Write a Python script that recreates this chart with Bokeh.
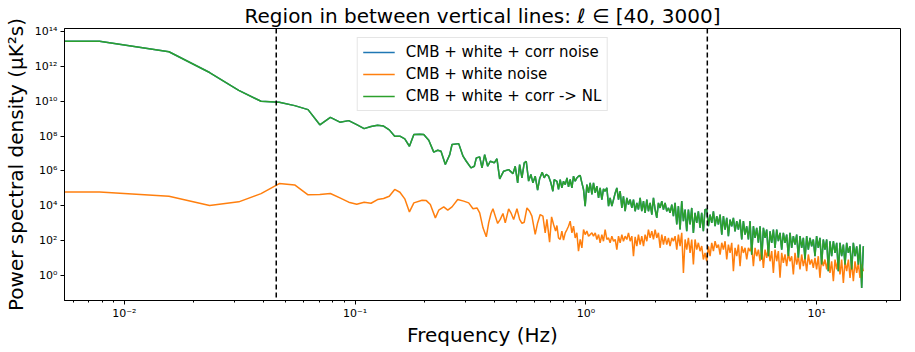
import numpy as np
from bokeh.plotting import figure
from bokeh.models import Span, Legend, LegendItem, FixedTicker, CustomJSTickFormatter, Range1d
from bokeh.embed import file_html
from bokeh.resources import INLINE

# ---------------- data ----------------
# low-frequency FFT bins (Hz); first bin is DC (0 Hz)
low_freq = [0.0, 0.0078, 0.0156, 0.0234, 0.0313, 0.0391, 0.0469, 0.0547, 0.0625, 0.0703,
            0.0781, 0.0859, 0.0938, 0.1016, 0.1094, 0.1172, 0.1250, 0.1328, 0.1406, 0.1484,
            0.1563, 0.1641, 0.1719, 0.1797]
green_low_log10 = [13.44, 13.44, 12.84, 11.65, 10.63, 10.00, 9.94, 9.75, 9.52, 8.65,
                   9.08, 8.80, 8.89, 8.66, 8.43, 8.55, 8.62, 8.58, 8.36, 7.99,
                   8.00, 7.84, 7.42, 8.09]
orange_low_log10 = [4.80, 4.80, 4.55, 4.02, 4.23, 4.70, 5.28, 5.20, 4.63, 4.65,
                    4.71, 4.46, 4.21, 4.09, 4.21, 4.15, 4.36, 4.42, 4.55, 4.94,
                    4.78, 4.40, 3.65, 4.17]

green_mid_freq = [0.1905, 0.1983, 0.2085, 0.2191, 0.2280, 0.2356, 0.2460, 0.2570, 0.2630, 0.2811,
                  0.2935, 0.3032, 0.3178, 0.3285, 0.3351, 0.3466, 0.3547, 0.3643, 0.3754, 0.3852,
                  0.4009, 0.4118, 0.4231, 0.4402, 0.4627, 0.4831, 0.4942, 0.5062, 0.5164, 0.5284,
                  0.5406, 0.5515, 0.5648, 0.5779, 0.5895, 0.6032, 0.6178, 0.6302, 0.6467, 0.6598,
                  0.6730, 0.6893, 0.7053, 0.7195, 0.7290]
green_mid_log10 = [8.11, 8.09, 7.76, 7.08, 7.19, 7.13, 6.37, 6.94, 7.52, 7.57,
                   6.85, 6.56, 6.18, 6.27, 6.75, 6.81, 6.18, 6.94, 6.27, 6.56,
                   6.47, 6.70, 5.55, 5.99, 6.08, 5.85, 6.27, 5.32, 6.37, 5.61,
                   6.47, 6.56, 5.42, 5.80, 5.32, 5.70, 4.90, 5.55, 5.93, 5.61,
                   5.80, 5.70, 5.32, 4.84, 5.51]

orange_mid_freq = [0.1950, 0.2035, 0.2118, 0.2227, 0.2303, 0.2421, 0.2520, 0.2630, 0.2783, 0.2955,
                   0.3106, 0.3242, 0.3374, 0.3466, 0.3582, 0.3702, 0.3791, 0.3879, 0.3957, 0.4049,
                   0.4147, 0.4256, 0.4372, 0.4473, 0.4627, 0.4734, 0.4864, 0.5027, 0.5164, 0.5284,
                   0.5406, 0.5554, 0.5705, 0.5836, 0.6032, 0.6178, 0.6340, 0.6513, 0.6664, 0.6778,
                   0.6963, 0.7102, 0.7246, 0.7392]
orange_mid_log10 = [4.32, 4.30, 4.08, 3.31, 3.75, 3.94, 3.75, 3.94, 4.36, 4.27,
                    4.17, 3.83, 3.88, 3.60, 2.74, 2.22, 3.02, 3.56, 3.83, 3.41,
                    2.99, 3.22, 3.56, 3.02, 3.83, 3.60, 3.22, 3.83, 3.22, 2.99,
                    3.06, 3.88, 3.69, 3.41, 2.36, 3.02, 3.50, 3.41, 2.45, 3.22,
                    1.92, 3.37, 2.93, 2.55]

dense_freq = [0.749, 0.761, 0.774, 0.787, 0.800, 0.814, 0.828, 0.841, 0.855, 0.870,
              0.884, 0.899, 0.914, 0.929, 0.945, 0.961, 0.977, 0.993, 1.010, 1.027,
              1.044, 1.062, 1.079, 1.098, 1.116, 1.135, 1.153, 1.173, 1.192, 1.212,
              1.233, 1.254, 1.274, 1.296, 1.318, 1.340, 1.362, 1.385, 1.408, 1.432,
              1.455, 1.480, 1.505, 1.530, 1.556, 1.582, 1.608, 1.635, 1.663, 1.690,
              1.719, 1.747, 1.777, 1.806, 1.837, 1.867, 1.899, 1.931, 1.963, 1.996,
              2.029, 2.063, 2.098, 2.133, 2.169, 2.205, 2.242, 2.280, 2.317, 2.357,
              2.396, 2.436, 2.477, 2.518, 2.560, 2.603, 2.647, 2.692, 2.736, 2.782,
              2.829, 2.876, 2.924, 2.973, 3.023, 3.073, 3.125, 3.177, 3.230, 3.284,
              3.341, 3.397, 3.454, 3.512, 3.571, 3.631, 3.692, 3.754, 3.817, 3.881,
              3.946, 4.012, 4.079, 4.147, 4.217, 4.287, 4.359, 4.432, 4.507, 4.582,
              4.659, 4.737, 4.817, 4.897, 4.979, 5.063, 5.148, 5.234, 5.321, 5.411,
              5.501, 5.594, 5.687, 5.783, 5.880, 5.978, 6.078, 6.180, 6.284, 6.389,
              6.496, 6.605, 6.715, 6.828, 6.942, 7.058, 7.177, 7.297, 7.419, 7.543,
              7.670, 7.798, 7.929, 8.062, 8.197, 8.334, 8.474, 8.616, 8.760, 8.907,
              9.056, 9.208, 9.362, 9.519, 9.678, 9.840, 10.00, 10.17, 10.34, 10.52,
              10.69, 10.87, 11.06, 11.24, 11.43, 11.62, 11.82, 12.02, 12.22, 12.42,
              12.63, 12.84, 13.06, 13.28, 13.50, 13.73, 13.96, 14.19, 14.43, 14.67,
              14.92, 15.17, 15.42, 15.68, 15.94]
green_dense_log10 = [5.41, 4.94, 5.51, 5.03, 5.41, 5.22, 5.60, 5.09, 5.51, 5.03,
                     5.70, 5.41, 5.60, 5.70, 5.74, 5.32, 4.94, 3.98, 5.22, 4.74,
                     5.32, 4.65, 5.32, 4.74, 5.13, 4.46, 5.03, 4.36, 4.97, 4.84,
                     5.03, 3.98, 4.46, 3.98, 4.36, 4.74, 5.03, 4.36, 4.84, 3.88,
                     4.55, 3.69, 4.46, 4.07, 4.36, 3.88, 4.36, 3.69, 4.17, 3.79,
                     4.46, 3.69, 4.27, 3.60, 4.36, 3.69, 4.17, 3.50, 4.46, 3.79,
                     3.31, 4.17, 3.88, 4.27, 3.79, 4.17, 3.69, 3.88, 3.60, 4.07,
                     3.41, 4.17, 2.93, 3.98, 2.64, 4.27, 3.12, 3.79, 2.55, 3.79,
                     2.93, 3.88, 2.45, 3.60, 3.02, 3.69, 2.74, 3.60, 2.55, 3.79,
                     3.79, 2.83, 3.50, 3.02, 3.69, 2.83, 3.41, 2.93, 3.50, 2.35,
                     3.41, 2.64, 3.31, 2.26, 3.21, 2.83, 3.31, 2.54, 3.12, 2.64,
                     3.21, 2.07, 3.12, 2.35, 2.83, 2.07, 3.12, 1.20, 2.83, 2.16,
                     2.74, 1.88, 2.83, 0.92, 2.74, 2.16, 2.64, 1.11, 2.54, 1.88,
                     2.64, 1.59, 2.64, 1.97, 2.45, 1.49, 2.45, 1.88, 2.35, 1.11,
                     2.45, 1.59, 2.26, 1.78, 2.35, 1.02, 2.26, 1.59, 2.16, 0.92,
                     2.26, 1.49, 2.16, 1.68, 2.07, 1.11, 2.26, 1.59, 2.16, 0.63,
                     2.07, 1.49, 2.07, 0.25, 1.97, 1.11, 1.97, 1.30, 1.88, 0.25,
                     1.88, 1.11, 1.78, 0.63, 1.88, 1.30, 1.68, 0.35, 1.88, 1.11,
                     1.68, 0.63, 1.78, -0.71, 1.68]
orange_dense_log10 = [2.87, 2.16, 2.07, 2.55, 2.03, 2.45, 2.64, 2.83, 3.12, 2.45,
                      2.83, 2.16, 2.45, 1.40, 2.07, 1.59, 2.64, 2.35, 2.55, 2.26,
                      2.35, 2.45, 2.26, 2.45, 2.07, 2.35, 1.88, 2.35, 1.97, 2.64,
                      2.07, 2.16, 1.88, 2.26, 1.97, 2.07, 1.49, 2.26, 1.88, 2.35,
                      1.97, 2.26, 2.07, 2.45, 1.97, 2.26, 1.11, 2.22, 1.69, 2.35,
                      1.78, 2.26, 1.69, 2.35, 1.97, 2.64, 2.16, 2.55, 2.07, 2.64,
                      2.16, 2.45, 1.59, 2.35, 1.78, 2.26, 1.78, 2.16, 1.69, 2.16,
                      1.97, 2.26, 1.49, 2.35, 1.69, 2.45, 0.15, 2.07, 1.49, 2.16,
                      1.30, 2.07, 0.63, 2.07, 1.49, 1.88, 1.40, 1.69, 0.92, 1.30,
                      0.82, 1.68, 1.11, 1.88, 1.40, 1.97, 1.59, 1.78, 1.20, 1.88,
                      1.49, 1.97, 0.92, 1.78, 1.30, 1.88, 0.25, 1.59, 1.11, 1.78,
                      0.54, 1.68, 1.30, 1.59, 0.92, 1.59, 1.40, 1.68, 0.54, 1.59,
                      1.11, 1.49, 0.82, 1.59, 0.44, 1.49, 1.02, 1.59, 0.82, 1.40,
                      0.15, 1.49, 0.82, 1.40, -0.13, 1.30, 0.73, 1.21, 0.54, 1.30,
                      0.82, 1.11, 0.06, 1.30, 0.63, 1.11, 0.35, 1.21, 0.54, 1.02,
                      0.25, 1.21, 0.63, 0.92, 0.44, 1.02, 0.35, 1.11, -0.13, 1.02,
                      0.54, 0.92, 0.35, 1.02, 0.15, 0.82, -0.32, 0.92, 0.35, 1.02,
                      0.06, 0.92, -0.42, 0.82, 0.25, 0.92, -0.13, 0.82, -0.32, 0.82,
                      0.15, 0.73, -0.13, 0.63, 0.25]

vline_freqs = [0.0455, 3.36]      # ell = 40 and ell = 3000
labels = ["CMB + white + corr noise", "CMB + white noise", "CMB + white + corr -> NL"]
x_major = [0.01, 0.1, 1.0, 10.0]
x_minor = [0.006, 0.007, 0.008, 0.009,
           0.02, 0.03, 0.04, 0.05, 0.06, 0.07, 0.08, 0.09,
           0.2, 0.3, 0.4, 0.5, 0.6, 0.7, 0.8, 0.9,
           2.0, 3.0, 4.0, 5.0, 6.0, 7.0, 8.0, 9.0, 20.0]
y_major = [1e0, 1e2, 1e4, 1e6, 1e8, 1e10, 1e12, 1e14]

# ---------------- assemble series ----------------
green_freq = np.array(low_freq + green_mid_freq + dense_freq)
green_psd = 10.0 ** np.array(green_low_log10 + green_mid_log10 + green_dense_log10)
orange_freq = np.array(low_freq + orange_mid_freq + dense_freq)
orange_psd = 10.0 ** np.array(orange_low_log10 + orange_mid_log10 + orange_dense_log10)
blue_freq, blue_psd = green_freq, green_psd   # identical curve, hidden under green
assert len(green_freq) == len(green_psd) and len(orange_freq) == len(orange_psd)

XMIN, XMAX = 0.0055, 23.1
def clip_dc(f):
    # log axis: non-positive frequency (DC bin) is clipped off the left edge
    f = f.copy()
    f[f <= 0] = XMIN / 10
    return f

p = figure(frame_width=836, frame_height=272, x_axis_type="log", y_axis_type="log",
           x_range=Range1d(XMIN, XMAX), y_range=Range1d(0.037, 1.5e14),
           output_backend="svg", toolbar_location=None,
           min_border_left=61, min_border_right=2, min_border_top=21, min_border_bottom=10,
           title="Region in between vertical lines: \u2113 \u2208 [40, 3000]")

p.title.text_font = "DejaVu Sans"
p.title.text_font_size = "20px"
p.title.text_font_style = "normal"
p.title.text_color = "black"
p.title.align = "center"
p.title.standoff = 2

r_blue = p.line(clip_dc(blue_freq), blue_psd, line_color="#1f77b4", line_width=1.5)
r_orange = p.line(clip_dc(orange_freq), orange_psd, line_color="#ff7f0e", line_width=1.5)
r_green = p.line(clip_dc(green_freq), green_psd, line_color="#2ca02c", line_width=1.5)

for f in vline_freqs:
    p.add_layout(Span(location=f, dimension="height", line_color="black",
                      line_width=1.5, line_dash="5 3"))

fmt = CustomJSTickFormatter(code=r"""
const e = Math.round(Math.log10(tick));
const sup = {"-": "\u207b", "0": "\u2070", "1": "\u00b9", "2": "\u00b2", "3": "\u00b3",
             "4": "\u2074", "5": "\u2075", "6": "\u2076", "7": "\u2077", "8": "\u2078", "9": "\u2079"};
let s = "";
for (const c of String(e)) { s += sup[c]; }
return "10" + s;
""")

p.xaxis.ticker = FixedTicker(ticks=x_major, minor_ticks=x_minor)
p.yaxis.ticker = FixedTicker(ticks=y_major, minor_ticks=[])
for ax in (p.xaxis, p.yaxis):
    ax.formatter = fmt
    ax.major_label_text_font = "DejaVu Sans"
    ax.major_label_text_font_size = "11px"
    ax.major_label_text_color = "black"
    ax.axis_label_text_font = "DejaVu Sans"
    ax.axis_label_text_font_size = "20px"
    ax.axis_label_text_font_style = "normal"
    ax.axis_label_text_color = "black"
    ax.axis_label_text_line_height = 1.0
    ax.major_label_text_line_height = 1.0
    ax.axis_line_color = "black"
    ax.major_tick_line_color = "black"
    ax.minor_tick_line_color = "black"
    ax.major_tick_in = 0
    ax.major_tick_out = 4
    ax.minor_tick_in = 0
    ax.minor_tick_out = 2
p.yaxis.major_label_standoff = 3
p.yaxis.axis_label_standoff = 4
p.xaxis.major_label_standoff = 2
p.xaxis.axis_label_standoff = 0

p.xaxis.axis_label = "Frequency (Hz)"
p.yaxis.axis_label = "Power spectral density (\u03bcK\u00b2s)"

p.grid.visible = False
p.outline_line_color = "black"
p.outline_line_width = 1
p.background_fill_color = "white"
p.border_fill_color = "white"

legend = Legend(items=[LegendItem(label=labels[0], renderers=[r_blue]),
                       LegendItem(label=labels[1], renderers=[r_orange]),
                       LegendItem(label=labels[2], renderers=[r_green])],
                location="top_center", margin=9, padding=5, spacing=4,
                glyph_width=32, glyph_height=18, label_height=18, label_standoff=11,
                label_text_font="DejaVu Sans", label_text_font_size="15px",
                label_text_color="black",
                border_line_color="#cccccc", border_line_width=1,
                background_fill_alpha=0.8)
p.add_layout(legend)

with open("out.html", "w", encoding="utf-8") as fh:
    fh.write(file_html(p, INLINE))
